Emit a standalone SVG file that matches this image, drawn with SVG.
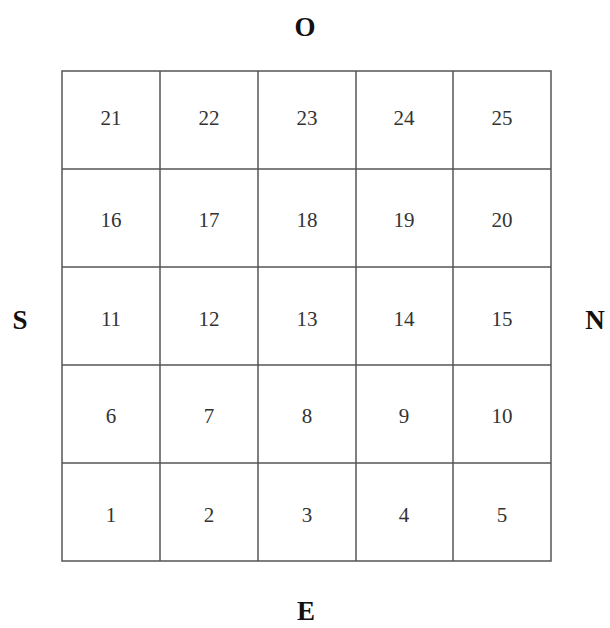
<svg xmlns="http://www.w3.org/2000/svg" width="610" height="628" viewBox="0 0 610 628">
<style>
.c{fill:#fff;stroke:#555;stroke-width:1.5}
.n{font-family:"Liberation Serif",serif;font-size:21px;fill:#333;text-anchor:middle}
.d{font-family:"Liberation Serif",serif;font-size:27px;font-weight:bold;fill:#111;text-anchor:middle}
</style>
<rect width="610" height="628" fill="#fff"/>
<g id="grid">
<rect class="c" x="62" y="71" width="489" height="490"/>
<g id="lines" stroke="#555" stroke-width="1.5">
<line x1="160" y1="71" x2="160" y2="561"/>
<line x1="258" y1="71" x2="258" y2="561"/>
<line x1="356" y1="71" x2="356" y2="561"/>
<line x1="453" y1="71" x2="453" y2="561"/>
<line x1="62" y1="169" x2="551" y2="169"/>
<line x1="62" y1="267" x2="551" y2="267"/>
<line x1="62" y1="365" x2="551" y2="365"/>
<line x1="62" y1="463" x2="551" y2="463"/>
</g>
</g>
<g id="numbers">
<text class="n" x="111" y="125">21</text><text class="n" x="209" y="125">22</text><text class="n" x="307" y="125">23</text><text class="n" x="404" y="125">24</text><text class="n" x="502" y="125">25</text>
<text class="n" x="111" y="227">16</text><text class="n" x="209" y="227">17</text><text class="n" x="307" y="227">18</text><text class="n" x="404" y="227">19</text><text class="n" x="502" y="227">20</text>
<text class="n" x="111" y="326">11</text><text class="n" x="209" y="326">12</text><text class="n" x="307" y="326">13</text><text class="n" x="404" y="326">14</text><text class="n" x="502" y="326">15</text>
<text class="n" x="111" y="423">6</text><text class="n" x="209" y="423">7</text><text class="n" x="307" y="423">8</text><text class="n" x="404" y="423">9</text><text class="n" x="502" y="423">10</text>
<text class="n" x="111" y="522">1</text><text class="n" x="209" y="522">2</text><text class="n" x="307" y="522">3</text><text class="n" x="404" y="522">4</text><text class="n" x="502" y="522">5</text>
</g>
<g id="labels">
<text class="d" x="305" y="36">O</text>
<text class="d" x="20" y="329">S</text>
<text class="d" x="595" y="329">N</text>
<text class="d" x="306" y="620">E</text>
</g>
</svg>
